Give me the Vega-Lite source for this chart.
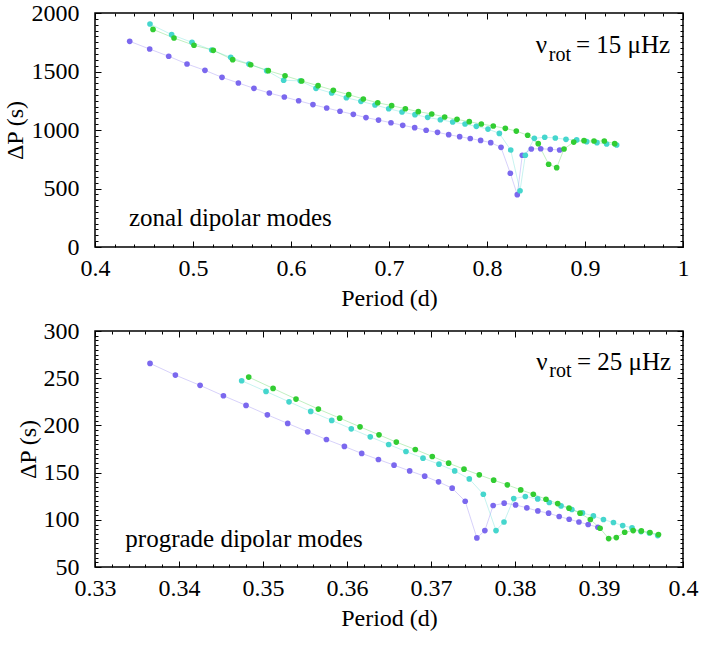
{
  "$schema": "https://vega.github.io/schema/vega-lite/v6.json",
  "padding": {"left": -4, "top": 0, "right": 0, "bottom": 0},
  "background": "white",
  "config": {
    "font": "Liberation Serif, Times New Roman, Times, serif",
    "view": {"stroke": "black", "strokeWidth": 1.5},
    "text": {"font": "Liberation Serif, Times New Roman, Times, serif", "color": "black"}
  },
  "datasets": {
    "top": [
      {"s":"a","p":0.4354,"d":1758},{"s":"a","p":0.4558,"d":1692},{"s":"a","p":0.4752,"d":1630},{"s":"a","p":0.4939,"d":1564},
      {"s":"a","p":0.5122,"d":1510},{"s":"a","p":0.5296,"d":1450},{"s":"a","p":0.5463,"d":1402},{"s":"a","p":0.5622,"d":1356},
      {"s":"a","p":0.5779,"d":1316},{"s":"a","p":0.5932,"d":1282},{"s":"a","p":0.6078,"d":1250},{"s":"a","p":0.6224,"d":1217},
      {"s":"a","p":0.6364,"d":1188},{"s":"a","p":0.6500,"d":1160},{"s":"a","p":0.6636,"d":1134},{"s":"a","p":0.6765,"d":1106},
      {"s":"a","p":0.6893,"d":1085},{"s":"a","p":0.7020,"d":1062},{"s":"a","p":0.7140,"d":1040},{"s":"a","p":0.7262,"d":1020},
      {"s":"a","p":0.7379,"d":998},{"s":"a","p":0.7495,"d":980},{"s":"a","p":0.7609,"d":960},{"s":"a","p":0.7721,"d":943},
      {"s":"a","p":0.7829,"d":927},{"s":"a","p":0.7935,"d":911},{"s":"a","p":0.8038,"d":892},{"s":"a","p":0.8143,"d":852},
      {"s":"a","p":0.8238,"d":630},{"s":"a","p":0.8309,"d":447},{"s":"a","p":0.8360,"d":784},{"s":"a","p":0.8452,"d":838},
      {"s":"a","p":0.8548,"d":840},{"s":"a","p":0.8646,"d":835},{"s":"a","p":0.8741,"d":829},

      {"s":"b","p":0.4561,"d":1906},{"s":"b","p":0.4782,"d":1815},{"s":"b","p":0.4990,"d":1749},{"s":"b","p":0.5191,"d":1684},
      {"s":"b","p":0.5385,"d":1621},{"s":"b","p":0.5571,"d":1564},{"s":"b","p":0.5752,"d":1507},{"s":"b","p":0.5925,"d":1425},
      {"s":"b","p":0.6095,"d":1420},{"s":"b","p":0.6255,"d":1356},{"s":"b","p":0.6415,"d":1316},{"s":"b","p":0.6565,"d":1276},
      {"s":"b","p":0.6714,"d":1245},{"s":"b","p":0.6857,"d":1214},{"s":"b","p":0.6997,"d":1182},{"s":"b","p":0.7133,"d":1154},
      {"s":"b","p":0.7265,"d":1131},{"s":"b","p":0.7395,"d":1108},{"s":"b","p":0.7524,"d":1088},{"s":"b","p":0.7650,"d":1068},
      {"s":"b","p":0.7776,"d":1051},{"s":"b","p":0.7891,"d":1031},{"s":"b","p":0.8010,"d":1008},{"s":"b","p":0.8126,"d":971},
      {"s":"b","p":0.8242,"d":829},{"s":"b","p":0.8337,"d":481},{"s":"b","p":0.8391,"d":784},{"s":"b","p":0.8483,"d":929},
      {"s":"b","p":0.8589,"d":938},{"s":"b","p":0.8697,"d":932},{"s":"b","p":0.8806,"d":920},{"s":"b","p":0.8915,"d":915},
      {"s":"b","p":0.9017,"d":900},{"s":"b","p":0.9122,"d":892},{"s":"b","p":0.9221,"d":880},{"s":"b","p":0.9323,"d":872},

      {"s":"c","p":0.4592,"d":1860},{"s":"c","p":0.4806,"d":1786},{"s":"c","p":0.5010,"d":1724},{"s":"c","p":0.5207,"d":1681},
      {"s":"c","p":0.5405,"d":1601},{"s":"c","p":0.5589,"d":1558},{"s":"c","p":0.5768,"d":1507},{"s":"c","p":0.5939,"d":1464},
      {"s":"c","p":0.6109,"d":1419},{"s":"c","p":0.6276,"d":1379},{"s":"c","p":0.6432,"d":1339},{"s":"c","p":0.6589,"d":1302},
      {"s":"c","p":0.6738,"d":1265},{"s":"c","p":0.6885,"d":1233},{"s":"c","p":0.7027,"d":1208},{"s":"c","p":0.7167,"d":1182},
      {"s":"c","p":0.7299,"d":1157},{"s":"c","p":0.7436,"d":1137},{"s":"c","p":0.7568,"d":1111},{"s":"c","p":0.7694,"d":1091},
      {"s":"c","p":0.7819,"d":1071},{"s":"c","p":0.7942,"d":1051},{"s":"c","p":0.8064,"d":1034},{"s":"c","p":0.8187,"d":1014},
      {"s":"c","p":0.8299,"d":991},{"s":"c","p":0.8415,"d":955},{"s":"c","p":0.8523,"d":883},{"s":"c","p":0.8629,"d":707},
      {"s":"c","p":0.8711,"d":678},{"s":"c","p":0.8786,"d":838},{"s":"c","p":0.8885,"d":897},{"s":"c","p":0.8990,"d":909},
      {"s":"c","p":0.9092,"d":906},{"s":"c","p":0.9197,"d":906},{"s":"c","p":0.9303,"d":883}
    ],
    "bottom": [
      {"s":"a","p":0.33655,"d":265.7},{"s":"a","p":0.33957,"d":253.3},{"s":"a","p":0.34251,"d":242.4},{"s":"a","p":0.34529,"d":231.4},
      {"s":"a","p":0.34798,"d":221.2},{"s":"a","p":0.35052,"d":211.2},{"s":"a","p":0.35294,"d":202.1},{"s":"a","p":0.35532,"d":193.2},
      {"s":"a","p":0.35755,"d":185.1},{"s":"a","p":0.35969,"d":177.7},{"s":"a","p":0.36175,"d":170.3},{"s":"a","p":0.36374,"d":163.9},
      {"s":"a","p":0.36560,"d":157.9},{"s":"a","p":0.36746,"d":151.8},{"s":"a","p":0.36925,"d":146.2},{"s":"a","p":0.37090,"d":140.2},
      {"s":"a","p":0.37252,"d":133.5},{"s":"a","p":0.37407,"d":119.7},{"s":"a","p":0.37546,"d":80.8},{"s":"a","p":0.37641,"d":88.6},
      {"s":"a","p":0.37740,"d":115.1},{"s":"a","p":0.37871,"d":117.6},{"s":"a","p":0.38007,"d":115.8},{"s":"a","p":0.38141,"d":112.6},
      {"s":"a","p":0.38272,"d":109.4},{"s":"a","p":0.38400,"d":107.0},{"s":"a","p":0.38526,"d":103.5},{"s":"a","p":0.38645,"d":100.6},
      {"s":"a","p":0.38761,"d":97.7},{"s":"a","p":0.38871,"d":95.0},{"s":"a","p":0.38987,"d":92.1},

      {"s":"b","p":0.34746,"d":247.3},{"s":"b","p":0.35036,"d":236.0},{"s":"b","p":0.35310,"d":225.0},{"s":"b","p":0.35568,"d":214.8},
      {"s":"b","p":0.35818,"d":205.3},{"s":"b","p":0.36051,"d":196.4},{"s":"b","p":0.36277,"d":187.9},{"s":"b","p":0.36496,"d":179.8},
      {"s":"b","p":0.36702,"d":172.4},{"s":"b","p":0.36905,"d":165.3},{"s":"b","p":0.37095,"d":158.9},{"s":"b","p":0.37282,"d":151.8},
      {"s":"b","p":0.37456,"d":143.3},{"s":"b","p":0.37623,"d":127.1},{"s":"b","p":0.37774,"d":88.6},{"s":"b","p":0.37869,"d":97.7},
      {"s":"b","p":0.37985,"d":122.5},{"s":"b","p":0.38123,"d":124.7},{"s":"b","p":0.38270,"d":122.1},{"s":"b","p":0.38408,"d":118.3},
      {"s":"b","p":0.38548,"d":114.7},{"s":"b","p":0.38677,"d":110.9},{"s":"b","p":0.38803,"d":107.3},{"s":"b","p":0.38933,"d":104.1},
      {"s":"b","p":0.39053,"d":100.3},{"s":"b","p":0.39172,"d":97.1},{"s":"b","p":0.39282,"d":93.9},{"s":"b","p":0.39393,"d":91.4},
      {"s":"b","p":0.39500,"d":87.5},{"s":"b","p":0.39600,"d":86.0},{"s":"b","p":0.39699,"d":83.3},

      {"s":"c","p":0.34830,"d":251.2},{"s":"c","p":0.35120,"d":239.2},{"s":"c","p":0.35393,"d":227.9},{"s":"c","p":0.35659,"d":217.3},
      {"s":"c","p":0.35913,"d":207.7},{"s":"c","p":0.36155,"d":198.5},{"s":"c","p":0.36381,"d":190.0},{"s":"c","p":0.36587,"d":182.3},
      {"s":"c","p":0.36813,"d":174.5},{"s":"c","p":0.37015,"d":167.1},{"s":"c","p":0.37210,"d":160.0},{"s":"c","p":0.37393,"d":153.6},
      {"s":"c","p":0.37575,"d":147.6},{"s":"c","p":0.37746,"d":142.0},{"s":"c","p":0.37909,"d":137.0},{"s":"c","p":0.38068,"d":131.7},
      {"s":"c","p":0.38218,"d":127.1},{"s":"c","p":0.38369,"d":121.8},{"s":"c","p":0.38508,"d":117.2},{"s":"c","p":0.38643,"d":112.3},
      {"s":"c","p":0.38774,"d":107.0},{"s":"c","p":0.38897,"d":100.3},{"s":"c","p":0.39013,"d":91.0},{"s":"c","p":0.39115,"d":80.1},
      {"s":"c","p":0.39206,"d":81.2},{"s":"c","p":0.39306,"d":86.8},{"s":"c","p":0.39407,"d":88.6},{"s":"c","p":0.39504,"d":88.2},
      {"s":"c","p":0.39607,"d":86.5},{"s":"c","p":0.39708,"d":84.4}
    ]
  },
  "concat": [
    {
      "width": 588, "height": 234,
      "layer": [
        {
          "data": {"name": "top"},
          "mark": {"type": "line", "strokeWidth": 1, "opacity": 0.3},
          "encoding": {
            "x": {"field": "p", "type": "quantitative", "scale": {"domain": [0.4, 1], "nice": false, "zero": false}},
            "y": {"field": "d", "type": "quantitative", "scale": {"domain": [0, 2000], "nice": false, "zero": false}},
            "color": {"field": "s", "type": "nominal", "scale": {"domain": ["a","b","c"], "range": ["#7b68ee","#45d6cd","#32cd32"]}, "legend": null}
          }
        },
        {
          "data": {"name": "top"},
          "mark": {"type": "circle", "size": 32, "opacity": 1},
          "encoding": {
            "x": {"field": "p", "type": "quantitative", "scale": {"domain": [0.4, 1], "nice": false, "zero": false},
                  "axis": {"orient": "bottom", "title": "Period (d)", "labelPadding": 9, "titlePadding": 6, "tickCount": 30, "format": "~g",
                           "labelFont": "Liberation Serif, Times New Roman, Times, serif", "titleFont": "Liberation Serif, Times New Roman, Times, serif",
                           "labelFontSize": 24, "titleFontSize": 24, "titleFontWeight": "normal", "labelColor": "black", "titleColor": "black",
                           "domain": false, "ticks": false, "labelOverlap": false, "labelFlush": false,
                           "grid": true, "gridColor": "black", "gridOpacity": 1, "gridWidth": 1,
                           "labelExpr": "abs(datum.value * 10 - round(datum.value * 10)) < 1e-6 ? datum.label : ''",
                           "gridDash": {"condition": {"test": "abs(datum.value * 10 - round(datum.value * 10)) < 1e-6", "value": [6, 222]}, "value": [3, 228]}}},
            "y": {"field": "d", "type": "quantitative", "scale": {"domain": [0, 2000], "nice": false, "zero": false},
                  "axis": {"orient": "left", "title": "ΔP (s)", "labelPadding": 16, "titlePadding": 4, "tickCount": 40, "format": "d",
                           "labelFont": "Liberation Serif, Times New Roman, Times, serif", "titleFont": "Liberation Serif, Times New Roman, Times, serif",
                           "labelFontSize": 24, "titleFontSize": 24, "titleFontWeight": "normal", "labelColor": "black", "titleColor": "black",
                           "domain": false, "ticks": false, "labelOverlap": false, "labelFlush": false,
                           "grid": true, "gridColor": "black", "gridOpacity": 1, "gridWidth": 1,
                           "labelExpr": "datum.value % 500 === 0 ? datum.label : ''",
                           "gridDash": {"condition": {"test": "datum.value % 500 === 0", "value": [6, 576]}, "value": [3, 582]}}},
            "color": {"field": "s", "type": "nominal", "scale": {"domain": ["a","b","c"], "range": ["#7b68ee","#45d6cd","#32cd32"]}, "legend": null}
          }
        },
        {
          "data": {"values": [{}]},
          "mark": {"type": "text", "text": "zonal dipolar modes", "align": "left", "baseline": "alphabetic", "fontSize": 25},
          "encoding": {
            "x": {"datum": 0.4347, "type": "quantitative", "scale": {"domain": [0.4, 1], "nice": false, "zero": false}},
            "y": {"datum": 180, "type": "quantitative", "scale": {"domain": [0, 2000], "nice": false, "zero": false}}
          }
        },
        {
          "data": {"values": [{}]},
          "mark": {"type": "text", "text": "ν", "align": "left", "baseline": "alphabetic", "fontSize": 25},
          "encoding": {
            "x": {"datum": 0.8497, "type": "quantitative", "scale": {"domain": [0.4, 1], "nice": false, "zero": false}},
            "y": {"datum": 1656, "type": "quantitative", "scale": {"domain": [0, 2000], "nice": false, "zero": false}}
          }
        },
        {
          "data": {"values": [{}]},
          "mark": {"type": "text", "text": "rot", "align": "left", "baseline": "alphabetic", "fontSize": 20},
          "encoding": {
            "x": {"datum": 0.8630, "type": "quantitative", "scale": {"domain": [0.4, 1], "nice": false, "zero": false}},
            "y": {"datum": 1590, "type": "quantitative", "scale": {"domain": [0, 2000], "nice": false, "zero": false}}
          }
        },
        {
          "data": {"values": [{}]},
          "mark": {"type": "text", "text": "= 15 μHz", "align": "left", "baseline": "alphabetic", "fontSize": 25},
          "encoding": {
            "x": {"datum": 0.8908, "type": "quantitative", "scale": {"domain": [0.4, 1], "nice": false, "zero": false}},
            "y": {"datum": 1656, "type": "quantitative", "scale": {"domain": [0, 2000], "nice": false, "zero": false}}
          }
        }
      ]
    },
    {
      "width": 588, "height": 236,
      "layer": [
        {
          "data": {"name": "bottom"},
          "mark": {"type": "line", "strokeWidth": 1, "opacity": 0.3},
          "encoding": {
            "x": {"field": "p", "type": "quantitative", "scale": {"domain": [0.33, 0.4], "nice": false, "zero": false}},
            "y": {"field": "d", "type": "quantitative", "scale": {"domain": [50, 300], "nice": false, "zero": false}},
            "color": {"field": "s", "type": "nominal", "scale": {"domain": ["a","b","c"], "range": ["#7b68ee","#45d6cd","#32cd32"]}, "legend": null}
          }
        },
        {
          "data": {"name": "bottom"},
          "mark": {"type": "circle", "size": 32, "opacity": 1},
          "encoding": {
            "x": {"field": "p", "type": "quantitative", "scale": {"domain": [0.33, 0.4], "nice": false, "zero": false},
                  "axis": {"orient": "bottom", "title": "Period (d)", "labelPadding": 9, "titlePadding": 6, "tickCount": 35, "format": "~g",
                           "labelFont": "Liberation Serif, Times New Roman, Times, serif", "titleFont": "Liberation Serif, Times New Roman, Times, serif",
                           "labelFontSize": 24, "titleFontSize": 24, "titleFontWeight": "normal", "labelColor": "black", "titleColor": "black",
                           "domain": false, "ticks": false, "labelOverlap": false, "labelFlush": false,
                           "grid": true, "gridColor": "black", "gridOpacity": 1, "gridWidth": 1,
                           "labelExpr": "abs(datum.value * 100 - round(datum.value * 100)) < 1e-6 ? datum.label : ''",
                           "gridDash": {"condition": {"test": "abs(datum.value * 100 - round(datum.value * 100)) < 1e-6", "value": [6, 224]}, "value": [3, 230]}}},
            "y": {"field": "d", "type": "quantitative", "scale": {"domain": [50, 300], "nice": false, "zero": false},
                  "axis": {"orient": "left", "title": ["", "ΔP (s)"], "titleLineHeight": 19, "labelPadding": 16, "titlePadding": 3, "tickCount": 50, "format": "d",
                           "labelFont": "Liberation Serif, Times New Roman, Times, serif", "titleFont": "Liberation Serif, Times New Roman, Times, serif",
                           "labelFontSize": 24, "titleFontSize": 24, "titleFontWeight": "normal", "labelColor": "black", "titleColor": "black",
                           "domain": false, "ticks": false, "labelOverlap": false, "labelFlush": false,
                           "grid": true, "gridColor": "black", "gridOpacity": 1, "gridWidth": 1,
                           "labelExpr": "datum.value % 50 === 0 ? datum.label : ''",
                           "gridDash": {"condition": {"test": "datum.value % 50 === 0", "value": [6, 576]}, "value": [3, 582]}}},
            "color": {"field": "s", "type": "nominal", "scale": {"domain": ["a","b","c"], "range": ["#7b68ee","#45d6cd","#32cd32"]}, "legend": null}
          }
        },
        {
          "data": {"values": [{}]},
          "mark": {"type": "text", "text": "prograde dipolar modes", "align": "left", "baseline": "alphabetic", "fontSize": 25},
          "encoding": {
            "x": {"datum": 0.33361, "type": "quantitative", "scale": {"domain": [0.33, 0.4], "nice": false, "zero": false}},
            "y": {"datum": 71.6, "type": "quantitative", "scale": {"domain": [50, 300], "nice": false, "zero": false}}
          }
        },
        {
          "data": {"values": [{}]},
          "mark": {"type": "text", "text": "ν", "align": "left", "baseline": "alphabetic", "fontSize": 25},
          "encoding": {
            "x": {"datum": 0.38254, "type": "quantitative", "scale": {"domain": [0.33, 0.4], "nice": false, "zero": false}},
            "y": {"datum": 258.9, "type": "quantitative", "scale": {"domain": [50, 300], "nice": false, "zero": false}}
          }
        },
        {
          "data": {"values": [{}]},
          "mark": {"type": "text", "text": "rot", "align": "left", "baseline": "alphabetic", "fontSize": 20},
          "encoding": {
            "x": {"datum": 0.38408, "type": "quantitative", "scale": {"domain": [0.33, 0.4], "nice": false, "zero": false}},
            "y": {"datum": 250.9, "type": "quantitative", "scale": {"domain": [50, 300], "nice": false, "zero": false}}
          }
        },
        {
          "data": {"values": [{}]},
          "mark": {"type": "text", "text": "= 25 μHz", "align": "left", "baseline": "alphabetic", "fontSize": 25},
          "encoding": {
            "x": {"datum": 0.38738, "type": "quantitative", "scale": {"domain": [0.33, 0.4], "nice": false, "zero": false}},
            "y": {"datum": 258.9, "type": "quantitative", "scale": {"domain": [50, 300], "nice": false, "zero": false}}
          }
        }
      ]
    }
  ],
  "columns": 1,
  "align": "none",
  "spacing": 7
}
